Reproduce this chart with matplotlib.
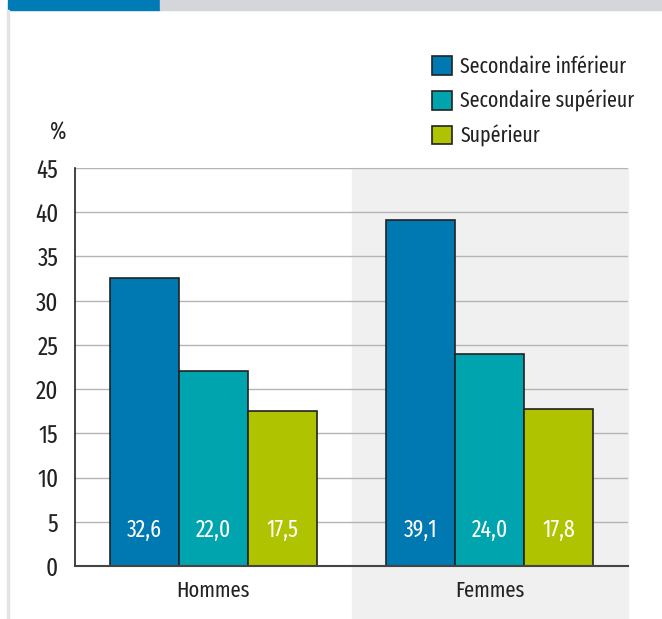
import matplotlib.pyplot as plt
import matplotlib.patches as mpatches
import matplotlib.transforms as mtransforms
import numpy as np

# données
groupes = ["Hommes", "Femmes"]
niveaux = ["Secondaire inférieur", "Secondaire supérieur", "Supérieur"]
sec_inf = [32.6, 39.1]
sec_sup = [22.0, 24.0]
superieur = [17.5, 17.8]
yticks = [0, 5, 10, 15, 20, 25, 30, 35, 40, 45]

couleurs = ["#0078B1", "#00A4AE", "#AFC300"]
texte = "#222222"
plt.rcParams['font.family'] = ["Fira Sans Extra Condensed", "DejaVu Sans"]

W, H = 662, 619
fig = plt.figure(figsize=(W / 100, H / 100), dpi=100)

# bandeau de titre (coupé en haut)
fig.patches.append(mpatches.Rectangle((8 / W, 1 - 10 / H), 152 / W, 10 / H,
                                      transform=fig.transFigure, color="#007BB5", zorder=0))
fig.patches.append(mpatches.Rectangle((160 / W, 1 - 10 / H), (W - 160) / W, 10 / H,
                                      transform=fig.transFigure, color="#D5D6DA", zorder=0))
# filet gauche
fig.patches.append(mpatches.Rectangle((7 / W, 0), 2 / W, 1 - 10 / H,
                                      transform=fig.transFigure, color="#E3E3E6", zorder=0))

ax = fig.add_axes([75 / W, 1 - 566 / H, (628 - 75) / W, (566 - 168) / H])
ax.set_xlim(-0.5, 1.5)
ax.set_ylim(0, 45)

# fond gris de la colonne Femmes, prolongé jusqu'en bas de la figure
trans = mtransforms.blended_transform_factory(ax.transData, fig.transFigure)
ax.add_patch(mpatches.Rectangle((0.5, 0), 1.0, 1 - 168 / H, transform=trans,
                                color="#F0F0F0", zorder=0, clip_on=False))

for y in yticks[1:]:
    ax.axhline(y, color="#B4B4B4", lw=1, zorder=1)

x = np.arange(len(groupes))
w = 0.25
for i, (vals, c) in enumerate(zip([sec_inf, sec_sup, superieur], couleurs)):
    pos = x + (i - 1) * w
    ax.bar(pos, vals, width=w, color=c, edgecolor="#222222", lw=1.2, zorder=2,
           label=niveaux[i])
    for p, v in zip(pos, vals):
        ax.text(p, 4, f"{v:.1f}".replace(".", ","), ha="center", va="center",
                color="white", fontsize=17, zorder=3)

ax.set_yticks(yticks)
ax.set_yticklabels([str(t) for t in yticks], fontsize=18, color=texte)
ax.set_xticks(x)
ax.set_xticklabels(groupes, fontsize=16, color=texte)
ax.tick_params(axis="y", length=0, pad=12)
ax.tick_params(axis="x", length=0, pad=10)
for s in ["top", "right"]:
    ax.spines[s].set_visible(False)
ax.spines["left"].set_color("#222222")
ax.spines["bottom"].set_color("#444444")
ax.spines["left"].set_linewidth(1.2)
ax.spines["bottom"].set_linewidth(1.5)
ax.set_facecolor("none")

fig.text(58 / W, 1 - 133 / H, "%", ha="center", va="center", fontsize=17, color=texte)

ax.legend(loc="upper left", bbox_to_anchor=(432 / W, 1 - 56 / H), bbox_transform=fig.transFigure,
          frameon=False, fontsize=15.5, handlelength=0.95, handleheight=0.95,
          handletextpad=0.37, labelspacing=0.58, borderaxespad=0, borderpad=0,
          labelcolor=texte)

fig.savefig("out.png", dpi=100)
